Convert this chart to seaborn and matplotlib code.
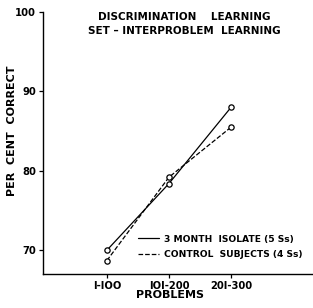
import matplotlib
matplotlib.use("Agg")
import matplotlib.pyplot as plt
import seaborn as sns
import pandas as pd

categories = ["1-100", "101-200", "201-300"]
tick_labels = ["I-IOO", "IOI-200", "20I-300"]
isolate = [70.0, 78.4, 88.0]
control = [68.7, 79.2, 85.5]

sns.set_style("ticks")
plt.rcParams['font.family'] = ['DejaVu Sans']

df = pd.DataFrame({
    "x": list(range(3)) * 2,
    "y": isolate + control,
    "group": ["3 MONTH  ISOLATE (5 Ss)"] * 3 + ["CONTROL  SUBJECTS (4 Ss)"] * 3,
})

fig = plt.figure(figsize=(3.13, 3.08), dpi=100)
ax = fig.add_axes([0.137, 0.110, 0.863, 0.851])

for grp, ls in zip(df["group"].unique(), ["-", "--"]):
    sub = df[df["group"] == grp]
    sns.lineplot(data=sub, x="x", y="y", ax=ax, color="black", lw=0.9,
                 linestyle=ls, marker="o", markersize=3.8,
                 markerfacecolor="white", markeredgecolor="black",
                 markeredgewidth=0.9, label=grp)

ax.set_xlim(-1.03, 3.32)
ax.set_ylim(67, 100)
ax.set_yticks([70, 80, 90, 100])
ax.set_xticks(range(3))
ax.set_xticklabels(tick_labels)
ax.tick_params(axis="both", labelsize=7.2, length=3, width=0.9, colors="black")
ax.tick_params(axis="x", pad=2)
ax.tick_params(axis="y", pad=2)
for lab in ax.get_xticklabels() + ax.get_yticklabels():
    lab.set_fontweight("bold")
for s in ["top", "right"]:
    ax.spines[s].set_visible(False)
for s in ["left", "bottom"]:
    ax.spines[s].set_linewidth(1.0)
    ax.spines[s].set_color("black")

ax.set_xlabel("")
ax.set_ylabel("")
fig.text(170 / 313, 1 - 295 / 308, "PROBLEMS", ha="center", va="center",
         fontsize=8, fontweight="bold", color="black")
fig.text(12 / 313, 1 - 131 / 308, "PER  CENT  CORRECT", rotation=90,
         ha="center", va="center", fontsize=8, fontweight="bold",
         color="black")

fig.text(0.59, 0.945, "DISCRIMINATION    LEARNING", ha="center", va="center",
         fontsize=7.5, fontweight="bold", color="black")
fig.text(0.59, 0.900, "SET \u2013 INTERPROBLEM  LEARNING", ha="center", va="center",
         fontsize=7.5, fontweight="bold", color="black")

leg = ax.legend(loc="center left", bbox_to_anchor=(138 / 313, 1 - 247 / 308),
                bbox_transform=fig.transFigure, frameon=False,
                fontsize=6.6, handlelength=2.3, handletextpad=0.5,
                labelspacing=0.75, borderaxespad=0, borderpad=0)
for t in leg.get_texts():
    t.set_fontweight("bold")
    t.set_color("black")
for h in leg.get_lines():
    h.set_marker("")

fig.savefig("out.png", dpi=100, facecolor="white")
